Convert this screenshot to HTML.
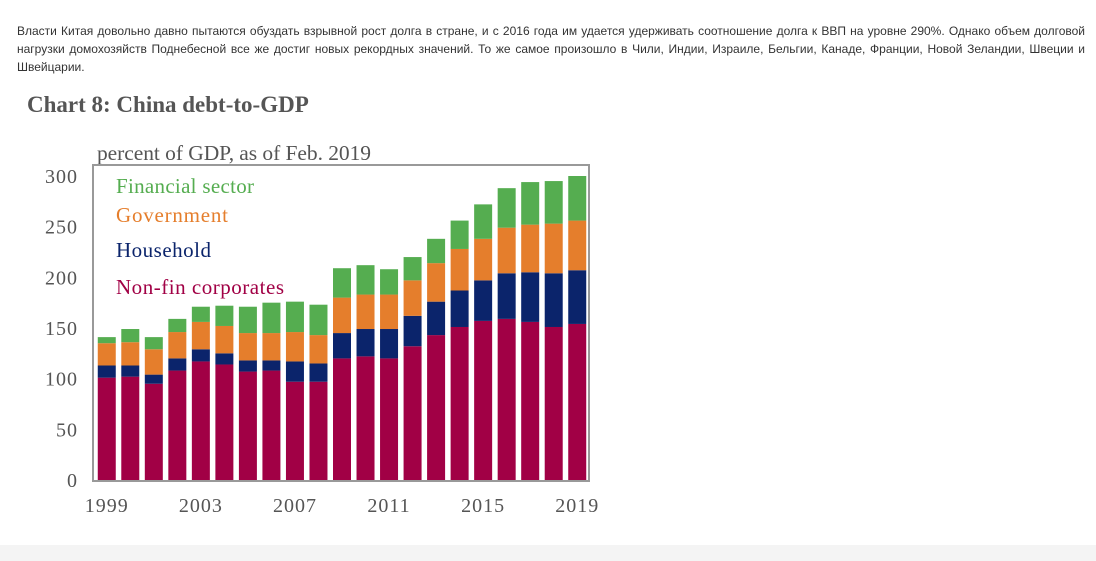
<!DOCTYPE html>
<html><head><meta charset="utf-8">
<style>
body{margin:0;width:1096px;height:561px;background:#fff;overflow:hidden;position:relative;font-family:"Liberation Sans",sans-serif}
#para{position:absolute;left:17px;top:22px;width:1068px;font-size:12px;line-height:18px;color:#333;text-align:justify}
#title{position:absolute;left:27px;top:92px;font-family:"Liberation Serif",serif;font-weight:bold;font-size:23px;color:#555}
#foot{position:absolute;left:0;top:545px;width:1096px;height:16px;background:#f4f4f4}
svg{position:absolute;left:0;top:0}
</style></head><body>
<div id="para">Власти Китая довольно давно пытаются обуздать взрывной рост долга в стране, и с 2016 года им удается удерживать соотношение долга к ВВП на уровне 290%. Однако объем долговой нагрузки домохозяйств Поднебесной все же достиг новых рекордных значений. То же самое произошло в Чили, Индии, Израиле, Бельгии, Канаде, Франции, Новой Зеландии, Швеции и Швейцарии.</div>
<div id="title">Chart 8: China debt-to-GDP</div>
<div id="foot"></div>
<svg id="chart" width="1096" height="561"></svg>
<script>
const years=[1999,2000,2001,2002,2003,2004,2005,2006,2007,2008,2009,2010,2011,2012,2013,2014,2015,2016,2017,2018,2019];
const corp=[101,102,95,108,117,114,107,108,97,97,120,122,120,132,143,151,157,159,156,151,154];
const household=[12,11,9,12,12,11,11,10,20,18,25,27,29,30,33,36,40,45,49,53,53];
const government=[22,23,25,26,27,27,27,27,29,28,35,34,34,35,38,41,41,45,47,49,49];
const financial=[6,13,12,13,15,20,26,30,30,30,29,29,25,23,24,28,34,39,42,42,44];
const yTicks=[0,50,100,150,200,250,300];
const xLabels=[1999,2003,2007,2011,2015,2019];
const seriesNames=["Non-fin corporates","Household","Government","Financial sector"];
const colors=["#a10045","#0b246b","#e57e2c","#55ad50"];
const NS="http://www.w3.org/2000/svg";
const svg=document.getElementById('chart');
const X0=95,X1=589,Y0=480,YT=176;
function y(v){return Y0-(v/300)*(Y0-YT);}
const pitch=(X1-X0)/years.length, bw=18;
function xc(i){return X0+pitch*(i+0.5);}
function mk(t,a){const e=document.createElementNS(NS,t);for(const k in a)e.setAttribute(k,a[k]);svg.appendChild(e);return e;}
let t=mk('text',{x:97,y:160,'font-family':'Liberation Serif,serif','font-size':21.5,fill:'#555',textLength:274});t.textContent='percent of GDP, as of Feb. 2019';


const series=[corp,household,government,financial];
years.forEach((yr,i)=>{let base=0;series.forEach((s,k)=>{const r=mk('rect',{x:xc(i)-bw/2,y:y(base+s[i]),width:bw,height:y(base)-y(base+s[i]),fill:colors[k]});


base+=s[i];});});
const box=mk('rect',{x:93,y:165,width:496,height:316,fill:'none',stroke:'#999','stroke-width':2});


yTicks.forEach(v=>{const e=mk('text',{x:78,y:y(v)+7,'text-anchor':'end','font-family':'Liberation Serif,serif','font-size':20,fill:'#555','letter-spacing':1});e.textContent=v;

});
xLabels.forEach(yr=>{const i=years.indexOf(yr);const e=mk('text',{x:xc(i),y:512,'text-anchor':'middle','font-family':'Liberation Serif,serif','font-size':20,fill:'#555','letter-spacing':1});e.textContent=yr;

});
const legY=[294,257,222,193];
const legW=[168,95,112,138];
[3,2,1,0].forEach(k=>{const e=mk('text',{x:116,y:legY[k],'font-family':'Liberation Serif,serif','font-size':21,fill:colors[k],textLength:legW[k]});e.textContent=seriesNames[k];

});
</script>
</body></html>
